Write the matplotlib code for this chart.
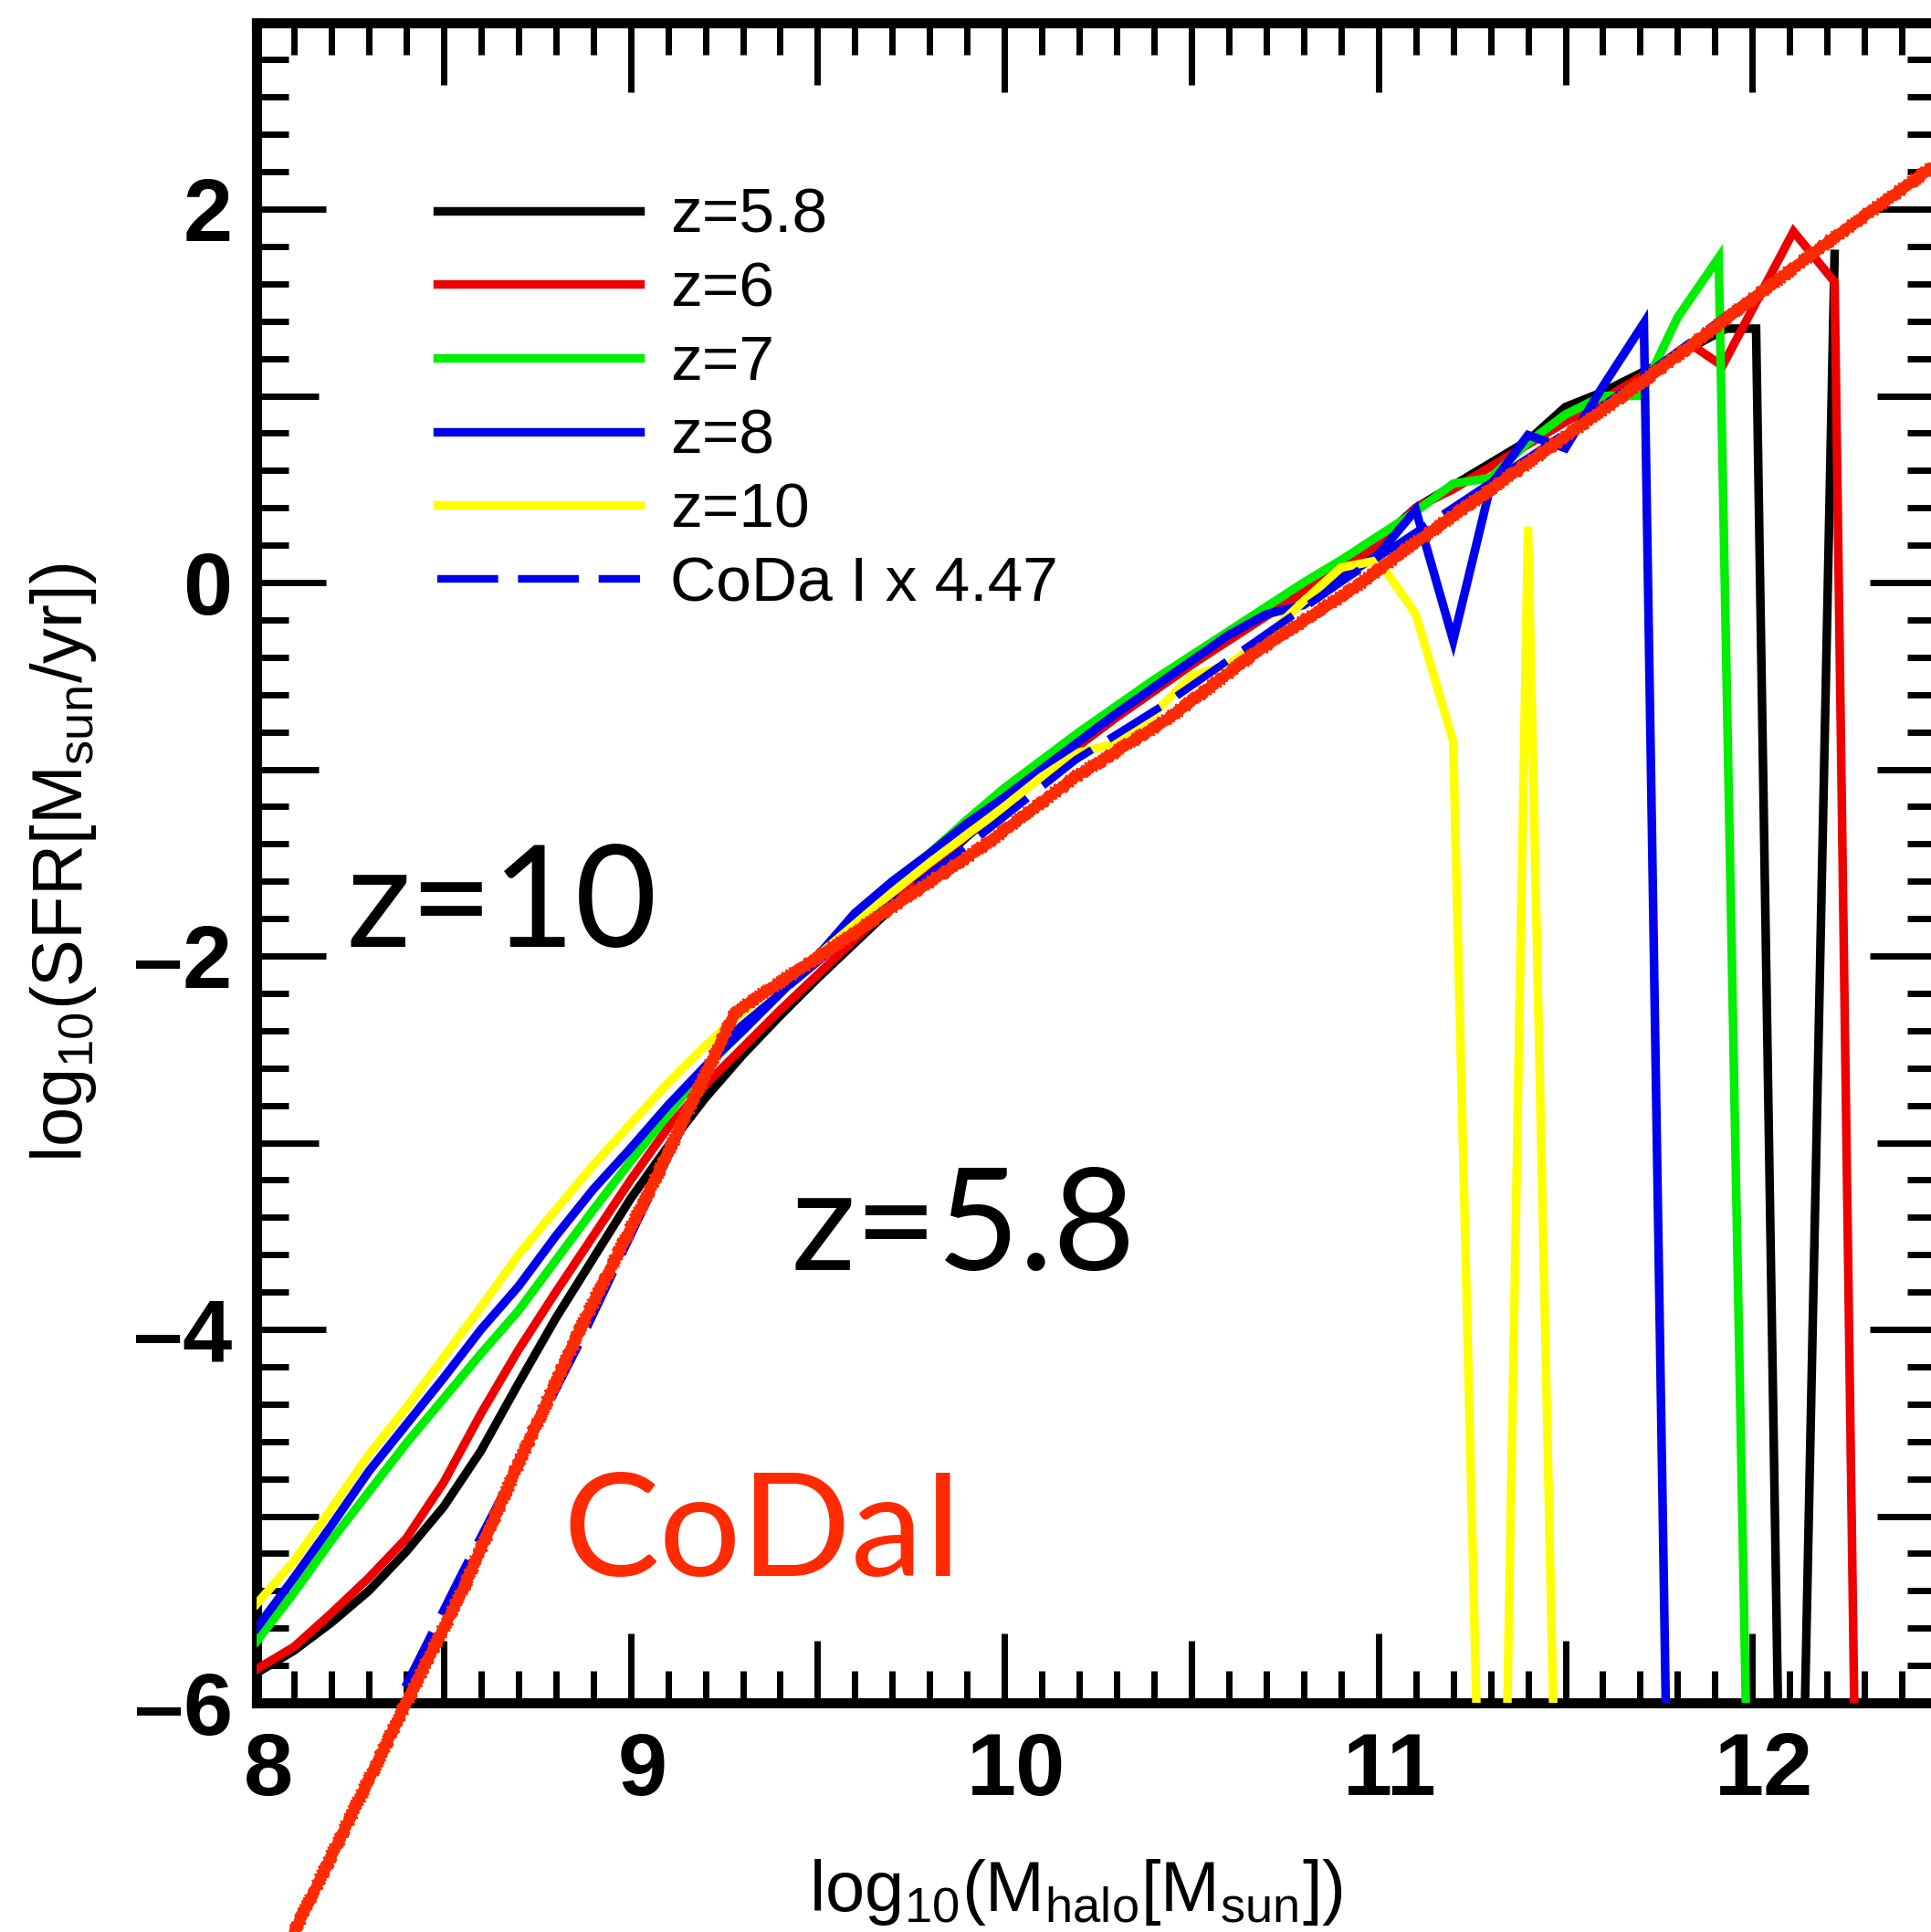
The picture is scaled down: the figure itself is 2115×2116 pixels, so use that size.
import numpy as np
import matplotlib
matplotlib.use("Agg")
import matplotlib.pyplot as plt
from matplotlib.ticker import MultipleLocator
from matplotlib.transforms import ScaledTranslation

plt.rcParams['font.family'] = ['Liberation Sans', 'DejaVu Sans']
plt.rcParams['mathtext.fontset'] = 'custom'
plt.rcParams['mathtext.rm'] = 'Liberation Sans'
plt.rcParams['mathtext.it'] = 'Liberation Sans:italic'
plt.rcParams['mathtext.bf'] = 'Liberation Sans:bold'

# ---- data: log10 halo mass vs log10 SFR ----
mass_z58 = [8.0, 8.1, 8.2, 8.3, 8.4, 8.5, 8.6, 8.7, 8.8, 8.9, 9.0, 9.1, 9.2, 9.3, 9.4,
            9.5, 9.6, 9.7, 9.8, 9.9, 10.0, 10.1, 10.2, 10.3, 10.4, 10.5, 10.6, 10.7,
            10.8, 10.9, 11.0, 11.1, 11.2, 11.3, 11.4, 11.5, 11.6, 11.7, 11.8, 11.93,
            12.01, 12.10, 12.22]
sfr_z58 = [-5.84, -5.72, -5.57, -5.40, -5.19, -4.95, -4.65, -4.29, -3.94, -3.62, -3.30,
           -3.02, -2.76, -2.53, -2.32, -2.12, -1.93, -1.74, -1.55, -1.36, -1.19, -1.03,
           -0.87, -0.72, -0.58, -0.44, -0.30, -0.17, -0.05, 0.08, 0.22, 0.40, 0.52, 0.64,
           0.76, 0.94, 1.02, 1.12, 1.22, 1.36, 1.36, -10.0, 1.76]

mass_z6 = [8.0, 8.1, 8.2, 8.3, 8.4, 8.5, 8.6, 8.7, 8.8, 8.9, 9.0, 9.1, 9.2, 9.3, 9.4,
           9.5, 9.6, 9.7, 9.8, 9.9, 10.0, 10.1, 10.2, 10.3, 10.4, 10.5, 10.6, 10.7,
           10.8, 10.9, 11.0, 11.1, 11.2, 11.3, 11.4, 11.5, 11.6, 11.7, 11.84, 11.92,
           12.11, 12.22, 12.30]
sfr_z6 = [-5.82, -5.70, -5.52, -5.33, -5.12, -4.82, -4.45, -4.11, -3.80, -3.50, -3.20,
          -2.92, -2.69, -2.49, -2.29, -2.10, -1.91, -1.72, -1.53, -1.35, -1.18, -1.02,
          -0.87, -0.72, -0.58, -0.44, -0.31, -0.18, -0.05, 0.07, 0.20, 0.40, 0.50, 0.62,
          0.74, 0.86, 0.98, 1.10, 1.27, 1.16, 1.88, 1.61, -10.0]

mass_z7 = [8.0, 8.1, 8.2, 8.3, 8.4, 8.5, 8.6, 8.7, 8.8, 8.9, 9.0, 9.1, 9.2, 9.3, 9.4,
           9.5, 9.6, 9.7, 9.8, 9.9, 10.0, 10.1, 10.2, 10.3, 10.4, 10.5, 10.6, 10.7,
           10.8, 10.9, 11.0, 11.1, 11.2, 11.3, 11.4, 11.5, 11.6, 11.7, 11.8, 11.91, 12.02]
sfr_z7 = [-5.67, -5.41, -5.13, -4.87, -4.61, -4.37, -4.13, -3.90, -3.63, -3.36, -3.10,
          -2.85, -2.60, -2.40, -2.20, -2.00, -1.80, -1.62, -1.45, -1.27, -1.10, -0.95,
          -0.80, -0.66, -0.52, -0.39, -0.26, -0.13, 0.00, 0.12, 0.25, 0.38, 0.53, 0.56,
          0.75, 0.90, 1.00, 1.00, 1.42, 1.74, -10.0]

mass_z8 = [8.0, 8.1, 8.2, 8.3, 8.4, 8.5, 8.6, 8.7, 8.8, 8.9, 9.0, 9.1, 9.2, 9.3, 9.4,
           9.5, 9.6, 9.7, 9.8, 9.9, 10.0, 10.1, 10.2, 10.3, 10.4, 10.5, 10.6, 10.7,
           10.8, 10.9, 11.0, 11.1, 11.2, 11.3, 11.4, 11.5, 11.6, 11.71, 11.80]
sfr_z8 = [-5.60, -5.33, -5.05, -4.76, -4.51, -4.26, -4.00, -3.77, -3.50, -3.25, -3.03,
          -2.80, -2.59, -2.40, -2.20, -2.00, -1.77, -1.60, -1.45, -1.29, -1.15, -1.00,
          -0.85, -0.70, -0.56, -0.42, -0.28, -0.17, -0.12, 0.02, 0.15, 0.39, -0.31, 0.52,
          0.79, 0.72, 1.05, 1.39, -10.0]

mass_z10 = [8.0, 8.1, 8.2, 8.3, 8.4, 8.5, 8.6, 8.7, 8.8, 8.9, 9.0, 9.1, 9.2, 9.3, 9.4,
            9.5, 9.6, 9.7, 9.8, 9.9, 10.0, 10.1, 10.2, 10.3, 10.4, 10.5, 10.6, 10.7,
            10.8, 10.9, 11.0, 11.1, 11.2, 11.31, 11.40, 11.51]
sfr_z10 = [-5.47, -5.24, -4.96, -4.67, -4.42, -4.15, -3.88, -3.60, -3.36, -3.12, -2.90,
           -2.68, -2.48, -2.30, -2.14, -2.00, -1.83, -1.66, -1.50, -1.35, -1.20, -1.04,
           -0.91, -0.86, -0.70, -0.50, -0.44, -0.29, -0.10, 0.08, 0.12, -0.17, -0.85,
           -10.0, 0.30, -10.0]

# CoDa I x 4.47 (blue dashed)
mass_coda = [8.30, 8.40, 8.55, 8.70, 8.87, 9.05, 9.25, 9.58, 9.945, 10.19, 10.43, 10.92,
             11.5, 12.0, 12.5]
sfr_coda = [-6.30, -5.90, -5.30, -4.72, -4.05, -3.29, -2.45, -1.90, -1.34, -0.95, -0.65,
            0.03, 0.80, 1.53, 2.25]

# hand-drawn CoDa I overlay (red)
mass_draw = [8.10, 8.40, 8.55, 8.70, 8.87, 9.06, 9.28, 9.58, 9.945, 10.19, 10.43, 10.675,
             10.92, 11.11, 11.71, 12.20, 12.52]
sfr_draw = [-7.23, -6.00, -5.40, -4.72, -3.98, -3.22, -2.30, -1.90, -1.41, -1.04, -0.74,
            -0.37, -0.05, 0.23, 1.08, 1.82, 2.28]

series = [
    (mass_z58, sfr_z58, 'black', 'z=5.8'),
    (mass_z6, sfr_z6, '#ee0000', 'z=6'),
    (mass_z7, sfr_z7, '#00ee00', 'z=7'),
    (mass_z8, sfr_z8, '#0000ee', 'z=8'),
    (mass_z10, sfr_z10, '#ffff00', 'z=10'),
]

xticks = [8, 8.5, 9, 9.5, 10, 10.5, 11, 11.5, 12, 12.5]
yticks = [-6, -5, -4, -3, -2, -1, 0, 1, 2, 3]

draw_red = '#ff2a00'

fig = plt.figure(figsize=(21.15, 21.16), dpi=100)
ax = fig.add_axes([0.1329, 0.1186, 0.8714, 0.8698])

for mx, sy, col, lab in series:
    ax.plot(mx, sy, color=col, lw=6.8, label=lab, solid_joinstyle='miter', zorder=3)

ax.plot(mass_coda, sfr_coda, color='#0000ee', lw=6.0, dashes=(8.0, 2.6),
        label='CoDa I x 4.47', zorder=3)

# rough crayon-like red line on top
ax.plot(mass_draw, sfr_draw, color=draw_red, lw=8.5, clip_on=False, zorder=5,
        solid_capstyle='round')
for sp in [(6.0, 4.0, 3.0), (7.0, 3.0, 4.0), (5.0, 6.0, 2.0)]:
    ln, = ax.plot(mass_draw, sfr_draw, color=draw_red, lw=1.8, clip_on=False, zorder=5)
    ln.set_sketch_params(*sp)

ax.set_xlim(8, 12.5)
ax.set_ylim(-6, 3)

for s in ax.spines.values():
    s.set_linewidth(8)

ax.set_xticks(xticks)
ax.set_yticks(yticks)
ax.set_xticklabels([f'{v:g}' if v == int(v) else '' for v in xticks])
ax.set_yticklabels([f'{v:g}'.replace('-', '\u2013') if v % 2 == 0 else '' for v in yticks])
ax.xaxis.set_minor_locator(MultipleLocator(0.1))
ax.yaxis.set_minor_locator(MultipleLocator(0.2))
ax.tick_params(which='both', direction='in', top=True, right=True, width=5, color='black')
ax.tick_params(which='major', length=49)
ax.tick_params(which='minor', length=25)
ax.tick_params(axis='x', which='major', pad=22, labelsize=70)
ax.tick_params(axis='y', which='major', pad=19, labelsize=70)
for lab in ax.get_xticklabels() + ax.get_yticklabels():
    lab.set_fontweight('bold')
for lab in ax.get_xticklabels():
    lab.set_transform(lab.get_transform() + ScaledTranslation(0.13, 0, fig.dpi_scale_trans))

# longer ticks on integer x and even y
for t, v in zip(ax.xaxis.get_major_ticks(), xticks):
    if v == int(v):
        t.tick1line.set_markersize(55)
        t.tick2line.set_markersize(55)
for t, v in zip(ax.yaxis.get_major_ticks(), yticks):
    if v % 2 == 0:
        t.tick1line.set_markersize(55)
        t.tick2line.set_markersize(55)

ax.set_xlabel(r'log$_\mathrm{10}$(M$_\mathrm{halo}$[M$_\mathrm{sun}$])', fontsize=56)
ax.set_ylabel(r'log$_\mathrm{10}$(SFR[M$_\mathrm{sun}$/yr])', fontsize=56)
ax.xaxis.set_label_coords(0.487, -0.092)
ax.yaxis.set_label_coords(-0.094, 0.5)

leg = ax.legend(loc='upper left', bbox_to_anchor=(0.1074, 0.902), frameon=False,
                fontsize=50, handlelength=3.2, handletextpad=0.47, labelspacing=0.24,
                borderpad=0, borderaxespad=0)

ann_font = ['Lato', 'DejaVu Sans']
ax.text(8.24, -1.95, 'z=10', fontsize=112, family=ann_font, va='baseline', zorder=6)
ax.text(9.43, -3.68, 'z=5.8', fontsize=112, family=ann_font, va='baseline', zorder=6)
ax.text(8.82, -5.32, 'CoDaI', fontsize=114, family=ann_font, va='baseline',
        color=draw_red, zorder=6)

fig.savefig('out.png', dpi=100)
